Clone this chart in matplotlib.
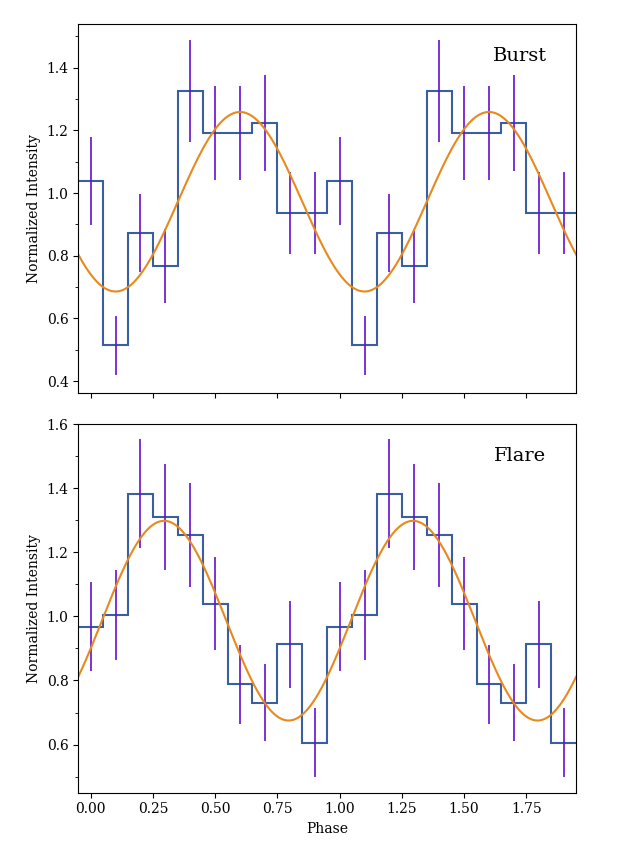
import matplotlib
matplotlib.use("Agg")
import matplotlib.pyplot as plt
import numpy as np
from matplotlib.ticker import AutoMinorLocator

# one cycle of binned phase, repeated twice
PHASE = np.arange(0.0, 2.0, 0.1)
EDGES = np.arange(-0.05, 2.0, 0.1)

BURST_VALS = [1.039, 0.514, 0.872, 0.768, 1.326, 1.192, 1.192, 1.224, 0.937, 0.937]
BURST_ERR = [0.14, 0.094, 0.124, 0.118, 0.162, 0.15, 0.15, 0.153, 0.13, 0.13]
BURST_FIT = (0.9725, 0.2865, 0.6)  # mean, amplitude, phase of peak

FLARE_VALS = [0.967, 1.004, 1.383, 1.31, 1.255, 1.04, 0.788, 0.731, 0.913, 0.606]
FLARE_ERR = [0.139, 0.14, 0.17, 0.165, 0.162, 0.144, 0.123, 0.12, 0.135, 0.108]
FLARE_FIT = (0.9865, 0.3115, 0.295)

STEP_COLOR = "#3a5fa0"
ERR_COLOR = "#6510d2"
FIT_COLOR = "#e8891c"

plt.rcParams["font.family"] = "DejaVu Serif"
plt.rcParams["font.size"] = 10


def draw_panel(ax, vals, errs, fit, label, ylim, yticks):
    vals2 = np.array(vals + vals)
    errs2 = np.array(errs + errs)
    ax.stairs(vals2, EDGES, baseline=None, color=STEP_COLOR, lw=1.5)
    ax.errorbar(PHASE, vals2, yerr=errs2, fmt="none", ecolor=ERR_COLOR, elinewidth=1.2, capsize=0)
    xs = np.linspace(-0.05, 1.95, 600)
    mean, amp, peak = fit
    ax.plot(xs, mean + amp * np.cos(2 * np.pi * (xs - peak)), color=FIT_COLOR, lw=1.5)
    ax.set_xlim(-0.05, 1.95)
    ax.set_ylim(*ylim)
    ax.set_yticks(yticks)
    ax.yaxis.set_minor_locator(AutoMinorLocator(2))
    ax.set_ylabel("Normalized Intensity")
    ax.text(0.888, 0.913, label, transform=ax.transAxes, ha="center", va="center", fontsize=14)


fig = plt.figure(figsize=(6.31, 8.41), dpi=100)
ax1 = fig.add_axes([0.124, 0.5327, 0.789, 0.4388])
ax2 = fig.add_axes([0.124, 0.0575, 0.789, 0.4383], sharex=ax1)

draw_panel(ax1, BURST_VALS, BURST_ERR, BURST_FIT, "Burst", (0.362, 1.54), [0.4, 0.6, 0.8, 1.0, 1.2, 1.4])
draw_panel(ax2, FLARE_VALS, FLARE_ERR, FLARE_FIT, "Flare", (0.45, 1.6), [0.6, 0.8, 1.0, 1.2, 1.4, 1.6])

ax2.set_xticks([0.0, 0.25, 0.5, 0.75, 1.0, 1.25, 1.5, 1.75])
ax2.set_xticklabels(["0.00", "0.25", "0.50", "0.75", "1.00", "1.25", "1.50", "1.75"])
ax1.tick_params(labelbottom=False)
ax2.set_xlabel("Phase")

fig.savefig("out.png", dpi=100)
